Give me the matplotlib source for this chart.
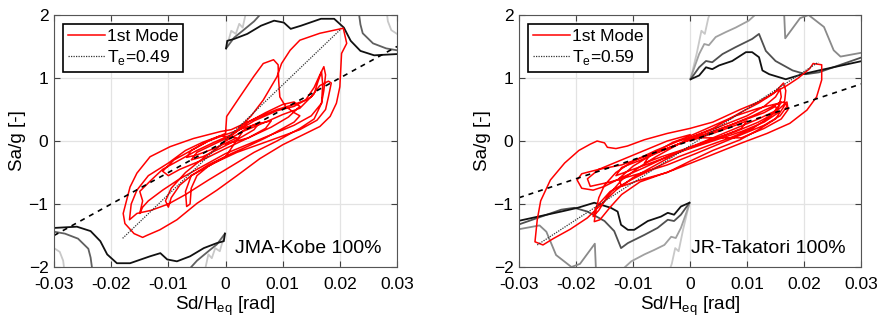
import numpy as np
import matplotlib.pyplot as plt

plt.rcParams['font.family'] = ['Liberation Sans', 'DejaVu Sans']

# ---- JMA-Kobe 100% ----
kobe_te = 'T$_\\mathregular{e}$=0.49'
kobe_title = 'JMA-Kobe 100%'
# red 1st mode response (Sd/Heq, Sa/g)
kobe_red = [
    (0.000, 0.00), (0.002, 0.10), (0.004, 0.22), (0.006, 0.30), (0.005, 0.18), (0.002, 0.02),
    (-0.001, -0.12), (-0.004, -0.25), (-0.006, -0.30), (-0.005, -0.18), (-0.002, -0.05), (0.001, 0.08),
    (0.004, 0.30), (0.007, 0.45), (0.010, 0.58), (0.012, 0.62), (0.013, 0.55), (0.011, 0.38),
    (0.008, 0.22), (0.004, 0.05), (0.000, -0.12), (-0.004, -0.30), (-0.008, -0.45), (-0.010, -0.55),
    (-0.011, -0.48), (-0.009, -0.30), (-0.006, -0.15), (-0.003, 0.00), (0.000, 0.12),
    (0.0002, 0.39), (0.0025, 0.70), (0.0049, 1.02), (0.0066, 1.23), (0.0084, 1.29), (0.0092, 1.21),
    (0.0093, 0.95), (0.0095, 0.70), (0.0105, 0.55), (0.012, 0.45), (0.013, 0.40), (0.012, 0.30),
    (0.010, 0.20), (0.007, 0.05), (0.004, -0.08), (0.001, -0.20), (-0.003, -0.38), (-0.006, -0.55),
    (-0.008, -0.70), (-0.0095, -0.90), (-0.010, -1.05), (-0.0105, -0.95), (-0.0095, -0.75),
    (-0.007, -0.50), (-0.004, -0.28), (-0.001, -0.08),
    (0.002, 0.17), (0.0045, 0.40), (0.0066, 0.65), (0.009, 1.02), (0.0098, 1.23), (0.0113, 1.44),
    (0.013, 1.60), (0.0165, 1.71), (0.0206, 1.79), (0.0212, 1.55), (0.0203, 1.39), (0.0200, 0.86),
    (0.0194, 0.60), (0.0183, 0.39), (0.0165, 0.23), (0.0136, 0.10), (0.0100, -0.06), (0.0060, -0.28),
    (0.0020, -0.55), (-0.0015, -0.78), (-0.0050, -0.99), (-0.0085, -1.25), (-0.0115, -1.41),
    (-0.0138, -1.50), (-0.0145, -1.53), (-0.0160, -1.47), (-0.0176, -1.31), (-0.0179, -1.15),
    (-0.0167, -0.73), (-0.0155, -0.51), (-0.0132, -0.25), (-0.0097, -0.09), (-0.0056, 0.04),
    (-0.0009, 0.15), (0.0010, 0.18),
    (0.005, 0.35), (0.009, 0.50), (0.012, 0.58), (0.014, 0.65), (0.0155, 0.85), (0.0165, 1.05),
    (0.0172, 1.18), (0.0175, 1.05), (0.0172, 0.80), (0.0168, 0.60), (0.015, 0.40), (0.012, 0.25),
    (0.008, 0.10), (0.004, -0.05), (0.000, -0.20), (-0.004, -0.40), (-0.008, -0.60), (-0.011, -0.78),
    (-0.0135, -0.95), (-0.0145, -1.05), (-0.015, -1.15), (-0.0145, -0.95), (-0.0150, -0.80),
    (-0.0130, -0.62), (-0.0110, -0.45), (-0.0080, -0.30), (-0.0050, -0.15), (-0.0020, -0.02),
    (0.0010, 0.10),
    (0.005, 0.32), (0.009, 0.48), (0.012, 0.55), (0.0150, 0.70), (0.0165, 0.88), (0.0180, 0.95),
    (0.0185, 0.92), (0.0180, 0.70), (0.0175, 0.50), (0.0160, 0.33), (0.0130, 0.18), (0.0100, 0.08),
    (0.0060, -0.05), (0.0020, -0.18), (-0.0020, -0.35), (-0.0060, -0.55), (-0.0070, -0.80),
    (-0.0068, -1.04), (-0.0062, -1.00), (-0.0060, -0.75), (-0.0050, -0.55), (-0.0030, -0.40),
    (0.0000, -0.25), (0.003, 0.15), (0.007, 0.30), (0.010, 0.42), (0.013, 0.52), (0.0155, 0.75),
    (0.0162, 0.95), (0.0168, 1.10), (0.017, 0.90), (0.0168, 0.60), (0.0155, 0.35), (0.0130, 0.20),
    (0.0090, 0.00), (0.0050, -0.18), (0.0010, -0.40), (-0.0030, -0.62), (-0.0070, -0.85),
    (-0.0100, -1.00), (-0.0130, -1.10), (-0.0155, -1.15), (-0.0168, -1.25), (-0.0165, -1.00),
    (-0.0155, -0.78), (-0.0135, -0.55), (-0.0100, -0.35), (-0.0070, -0.15), (-0.0040, -0.02),
    (-0.0010, 0.08), (0.002, 0.05), (-0.002, -0.12), (-0.005, -0.22), (-0.0068, -0.26),
    (-0.006, -0.15), (-0.003, 0.00), (0.000, 0.10), (0.003, 0.20), (0.006, 0.28), (0.008, 0.32),
    (0.007, 0.20), (0.004, 0.05), (0.000, -0.05),
]
kobe_dash = [(-0.03, -1.5), (0.03, 1.5)]
kobe_dot = [(-0.018, -1.545), (0.0201, 1.77)]
# capacity / demand curves, upper half (lower half is the point-mirror)
kobe_black = [(0.0001, 1.47), (0.0003, 1.59), (0.0015, 1.62), (0.0038, 1.70), (0.0062, 1.83),
              (0.0085, 1.91), (0.0102, 1.88), (0.0114, 1.78), (0.0132, 1.83), (0.0167, 1.94),
              (0.019, 1.94), (0.0207, 1.80), (0.0219, 1.59), (0.0236, 1.43), (0.026, 1.36),
              (0.030, 1.38)]
kobe_dark = [(0.0001, 1.47), (0.0015, 1.64), (0.003, 1.75), (0.005, 1.90), (0.0065, 2.05)]
kobe_dark2 = [(0.0233, 2.05), (0.0236, 1.85), (0.0240, 1.71), (0.0258, 1.55), (0.0281, 1.47),
              (0.0300, 1.44)]
kobe_light = [(0.0002, 1.50), (0.0006, 1.62), (0.001, 1.75), (0.0018, 1.70), (0.0024, 1.86),
              (0.003, 1.80), (0.0036, 2.05)]
kobe_light2 = [(0.0282, 2.05), (0.0284, 1.90), (0.0290, 1.76), (0.0300, 1.70)]

# ---- JR-Takatori 100% ----
taka_te = 'T$_\\mathregular{e}$=0.59'
taka_title = 'JR-Takatori 100%'
taka_red = [
    (0.000, 0.00), (0.004, 0.12), (0.008, 0.25), (0.010, 0.32), (0.009, 0.20), (0.005, 0.05),
    (0.000, -0.10), (-0.005, -0.25), (-0.008, -0.35), (-0.007, -0.22), (-0.003, -0.08), (0.001, 0.05),
    (0.005, 0.18), (0.010, 0.35), (0.013, 0.45), (0.015, 0.55), (0.0155, 0.45), (0.013, 0.30),
    (0.009, 0.15), (0.004, 0.00), (-0.001, -0.15), (-0.006, -0.32), (-0.010, -0.45), (-0.013, -0.55),
    (-0.012, -0.42), (-0.008, -0.28), (-0.004, -0.12), (0.000, 0.02),
    (0.003, 0.12), (0.007, 0.25), (0.011, 0.40), (0.0145, 0.55), (0.016, 0.62), (0.015, 0.45),
    (0.012, 0.30), (0.008, 0.15), (0.003, 0.00), (-0.002, -0.18), (-0.006, -0.38), (-0.010, -0.58),
    (-0.013, -0.78), (-0.0155, -1.00), (-0.018, -1.22), (-0.021, -1.40), (-0.024, -1.55),
    (-0.0258, -1.65), (-0.0272, -1.60), (-0.0268, -1.25), (-0.0262, -0.95), (-0.0245, -0.62),
    (-0.022, -0.35), (-0.0195, -0.15), (-0.0175, -0.05), (-0.0163, 0.00), (-0.0150, -0.03),
    (-0.0145, -0.10), (-0.0130, -0.12), (-0.0110, -0.08), (-0.0080, 0.02), (-0.0040, 0.12),
    (0.0000, 0.20), (0.004, 0.30),
    (0.0088, 0.50), (0.012, 0.62), (0.015, 0.78), (0.017, 0.88), (0.019, 1.00), (0.021, 1.15),
    (0.0216, 1.23), (0.0231, 1.21), (0.0231, 0.97), (0.0222, 0.70), (0.0205, 0.49), (0.0175, 0.28),
    (0.0135, 0.12), (0.0088, -0.04), (0.003, -0.25), (-0.0029, -0.46), (-0.0088, -0.65),
    (-0.012, -0.85), (-0.014, -1.05), (-0.0158, -1.25), (-0.0168, -1.28), (-0.0165, -1.10),
    (-0.0160, -0.90), (-0.0150, -0.70), (-0.0130, -0.50), (-0.0100, -0.32), (-0.0060, -0.15),
    (-0.0020, 0.00), (0.002, 0.10),
    (-0.004, -0.12), (-0.008, -0.25), (-0.012, -0.38), (-0.016, -0.45), (-0.019, -0.52),
    (-0.0198, -0.62), (-0.019, -0.75), (-0.017, -0.78), (-0.015, -0.72), (-0.012, -0.58),
    (-0.008, -0.42), (-0.004, -0.25), (0.000, -0.10), (0.004, 0.05), (0.008, 0.20), (0.012, 0.35),
    (0.0155, 0.50), (0.017, 0.62), (0.0172, 0.50), (0.016, 0.35), (0.013, 0.20), (0.009, 0.05),
    (0.000, 0.05), (0.005, 0.22), (0.010, 0.40), (0.013, 0.55), (0.015, 0.70), (0.0158, 0.82),
    (0.016, 0.70), (0.0155, 0.55), (0.014, 0.38), (0.011, 0.20), (0.007, 0.05), (0.003, -0.08),
    (-0.002, -0.25), (-0.006, -0.42), (-0.010, -0.60), (-0.014, -0.80), (-0.0165, -1.05),
    (-0.0170, -1.20), (-0.0160, -1.10), (-0.0145, -0.88), (-0.0120, -0.62), (-0.0090, -0.42),
    (-0.0060, -0.25), (-0.0030, -0.10), (0.000, 0.05),
    (0.004, 0.20), (0.0088, 0.45), (0.012, 0.60), (0.0146, 0.75), (0.0164, 0.92), (0.0168, 0.80),
    (0.0165, 0.55), (0.015, 0.35), (0.0120, 0.18), (0.0088, 0.02), (0.004, -0.15), (0.000, -0.32),
    (-0.004, -0.50), (-0.0088, -0.62), (-0.012, -0.72), (-0.0125, -0.60), (-0.010, -0.40),
    (-0.006, -0.18), (-0.003, -0.02), (0.000, 0.08),
    (0.003, 0.20), (0.008, 0.40), (0.012, 0.52), (0.0165, 0.62), (0.017, 0.55), (0.0158, 0.40),
    (0.013, 0.25), (0.009, 0.10), (0.005, -0.05), (0.001, -0.20), (-0.004, -0.38), (-0.009, -0.52),
    (-0.014, -0.65), (-0.0175, -0.72), (-0.018, -0.60), (-0.016, -0.45), (-0.012, -0.30),
    (-0.008, -0.15), (-0.004, 0.00), (0.000, 0.10),
]
taka_dash = [(-0.03, -0.9), (0.03, 0.905)]
taka_dot = [(-0.0268, -1.65), (0.0225, 1.25)]
taka_black = [(0.0001, 0.98), (0.0016, 1.04), (0.0028, 1.17), (0.0039, 1.14), (0.0051, 1.20),
              (0.0074, 1.27), (0.0098, 1.41), (0.0109, 1.41), (0.0121, 1.33), (0.0127, 1.12),
              (0.0139, 1.06), (0.0168, 0.98), (0.0197, 1.06), (0.0226, 1.12), (0.0302, 1.27)]
taka_dark = [(0.0001, 0.98), (0.0016, 1.17), (0.0028, 1.27), (0.0039, 1.25), (0.0057, 1.38),
             (0.008, 1.49), (0.0109, 1.62), (0.0121, 1.70), (0.0133, 1.43), (0.015, 1.27),
             (0.018, 1.12), (0.0203, 1.06), (0.0226, 1.09), (0.0302, 1.33)]
taka_gray = [(0.0001, 1.00), (0.0016, 1.38), (0.0025, 1.54), (0.0033, 1.52), (0.0045, 1.65),
             (0.0063, 1.73), (0.008, 1.80), (0.0103, 1.91), (0.012, 2.05)]
taka_gray2 = [(0.0165, 2.05), (0.0167, 1.63), (0.0193, 1.95), (0.0208, 2.0), (0.0235, 1.81),
              (0.0252, 1.44), (0.0264, 1.34), (0.0300, 1.40)]
taka_light = [(0.0002, 1.02), (0.0012, 1.40), (0.0020, 1.75), (0.0026, 1.70), (0.0032, 1.95),
              (0.0036, 2.05)]


def draw(ax, red, dash, dot, curves, te_label, title):
    for pts, col in curves:
        p = np.array(pts)
        ax.plot(p[:, 0], p[:, 1], color=col, lw=1.3)
        ax.plot(-p[:, 0], -p[:, 1], color=col, lw=1.3)
    r = np.array(red)
    ax.plot(r[:, 0], r[:, 1], color='red', lw=1.1, label='1st Mode')
    d = np.array(dot)
    ax.plot(d[:, 0], d[:, 1], color='#333333', lw=0.9, ls=(0, (1, 1)), label=te_label)
    d = np.array(dash)
    ax.plot(d[:, 0], d[:, 1], color='black', lw=1.2, ls=(0, (3, 3)))

    ax.set_xlim(-0.03, 0.03)
    ax.set_ylim(-2, 2)
    ax.set_xticks([-0.03, -0.02, -0.01, 0, 0.01, 0.02, 0.03])
    ax.set_xticklabels(['-0.03', '-0.02', '-0.01', '0', '0.01', '0.02', '0.03'])
    ax.set_yticks([-2, -1, 0, 1, 2])
    ax.grid(True, color='#e3e3e3', lw=0.9)
    ax.set_axisbelow(True)
    ax.tick_params(direction='in', top=True, right=True, labelsize=12.5, length=4,
                   color='#404040', pad=4)
    ax.tick_params(axis='x', pad=7)
    for s in ax.spines.values():
        s.set_color('#555555')
    ax.set_xlabel('Sd/H$_\\mathregular{eq}$ [rad]', fontsize=13.5, labelpad=2)
    ax.set_ylabel('Sa/g [-]', fontsize=13.5, labelpad=2)
    leg = ax.legend(loc='upper left', bbox_to_anchor=(0.027, 0.964), borderaxespad=0,
                    fontsize=12.5, handlelength=2.1, handletextpad=0.1, labelspacing=0.2,
                    borderpad=0.3, fancybox=False, framealpha=1)
    leg.get_frame().set_edgecolor('black')
    leg.get_frame().set_linewidth(1.2)
    ax.text(0.955, 0.04, title, transform=ax.transAxes, ha='right', va='bottom', fontsize=14)


fig = plt.figure(figsize=(8.77, 3.22), dpi=100)
ax1 = fig.add_axes([0.0616, 0.1708, 0.3911, 0.7826])
ax2 = fig.add_axes([0.5918, 0.1708, 0.3900, 0.7826])

draw(ax1, kobe_red, kobe_dash, kobe_dot,
     [(kobe_light, '#c8c8c8'), (kobe_light2, '#c8c8c8'), (kobe_dark, '#606060'),
      (kobe_dark2, '#606060'), (kobe_black, '#111111')],
     kobe_te, kobe_title)
draw(ax2, taka_red, taka_dash, taka_dot,
     [(taka_light, '#c8c8c8'), (taka_gray, '#a0a0a0'), (taka_gray2, '#8a8a8a'),
      (taka_dark, '#505050'), (taka_black, '#111111')],
     taka_te, taka_title)

plt.savefig('out.png', dpi=100)
